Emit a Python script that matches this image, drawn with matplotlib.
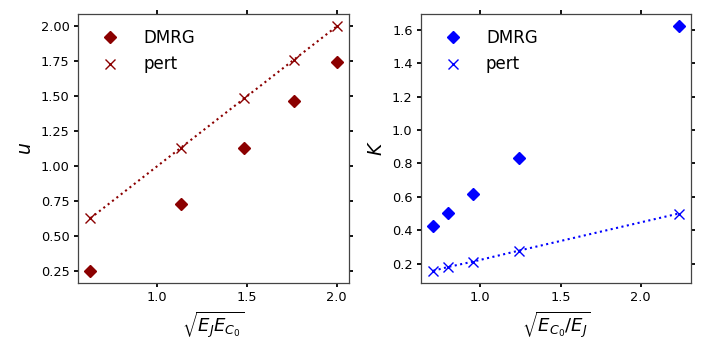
import matplotlib
matplotlib.use("Agg")
import matplotlib.pyplot as plt

# Left panel data
x_left = [0.63, 1.135, 1.485, 1.76, 2.0]
u_dmrg = [0.255, 0.735, 1.135, 1.465, 1.747]
u_pert = [0.63, 1.135, 1.485, 1.76, 2.0]

# Right panel data
x_right = [0.707, 0.80, 0.955, 1.242, 2.236]
K_dmrg = [0.428, 0.502, 0.618, 0.833, 1.622]
K_pert = [0.157, 0.180, 0.212, 0.278, 0.500]

fig = plt.figure(figsize=(7.06, 3.53), dpi=100)
ax1 = fig.add_axes([0.1105, 0.1983, 0.384, 0.7617])
ax2 = fig.add_axes([0.5963, 0.1983, 0.3824, 0.7617])

def style(ax):
    for s in ax.spines.values():
        s.set_color('#444444')
        s.set_linewidth(0.9)
    ax.tick_params(axis='both', which='both', direction='out', length=3, width=1.3,
                   top=True, right=True, labelsize=9.3, color='black', pad=3)

ax1.plot(x_left, u_dmrg, 'D', color='darkred', markersize=6.3, label='DMRG', linestyle='none')
ax1.plot(x_left, u_pert, 'x', color='darkred', markersize=6.5, linestyle=':', linewidth=1.5, label='pert')
ax1.set_ylabel('$u$', fontsize=13.5)
ax1.set_xlabel(r'$\sqrt{E_J E_{C_0}}$', fontsize=13)
ax1.set_yticks([0.25, 0.5, 0.75, 1.0, 1.25, 1.5, 1.75, 2.0])
ax1.set_xticks([1.0, 1.5, 2.0])
leg1 = ax1.legend(loc='upper left', frameon=False, fontsize=12, handlelength=2.0, handletextpad=1.0)
for h in leg1.legend_handles:
    h.set_linestyle('none')
style(ax1)

ax2.plot(x_right, K_dmrg, 'D', color='blue', markersize=6.3, label='DMRG', linestyle='none')
ax2.plot(x_right, K_pert, 'x', color='blue', markersize=6.5, linestyle=':', linewidth=1.5, label='pert')
ax2.set_ylabel('$K$', fontsize=13.5)
ax2.set_xlabel(r'$\sqrt{E_{C_0}/E_J}$', fontsize=13)
ax2.set_yticks([0.2, 0.4, 0.6, 0.8, 1.0, 1.2, 1.4, 1.6])
ax2.set_xticks([1.0, 1.5, 2.0])
leg2 = ax2.legend(loc='upper left', frameon=False, fontsize=12, handlelength=2.0, handletextpad=1.0)
for h in leg2.legend_handles:
    h.set_linestyle('none')
style(ax2)

fig.savefig('out.png', dpi=100)
